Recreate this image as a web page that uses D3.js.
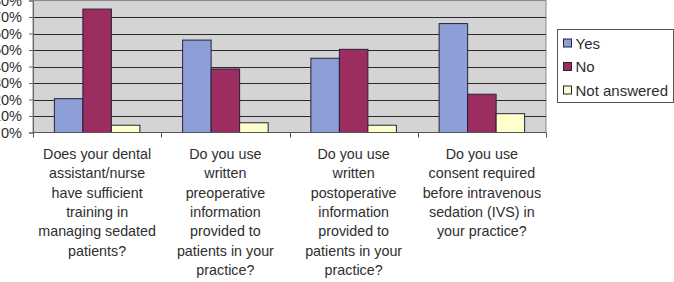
<!DOCTYPE html>
<html>
<head>
<meta charset="utf-8">
<script src="https://cdn.jsdelivr.net/npm/d3@7"></script>
<style>
  body { margin: 0; background: #fff; }
  svg { display: block; font-family: "Liberation Sans", Arial, sans-serif; }
</style>
</head>
<body>
<script>
// categories (tick labels, already wrapped as in the original)
var categories = ["q1", "q2", "q3", "q4"];
var categoryLabels = [
  ["Does your dental", "assistant/nurse", "have sufficient", "training in", "managing sedated", "patients?"],
  ["Do you use", "written", "preoperative", "information", "provided to", "patients in your", "practice?"],
  ["Do you use", "written", "postoperative", "information", "provided to", "patients in your", "practice?"],
  ["Do you use", "consent required", "before intravenous", "sedation (IVS) in", "your practice?"]
];

var seriesNames = ["Yes", "No", "Not answered"];
var seriesColors = ["#8e9fd8", "#9b2d60", "#ffffcc"];

// percent values per series, one per category
var yesValues = [20.5, 56, 45, 66];
var noValues = [74.8, 38.5, 50.4, 23.2];
var notAnsweredValues = [4.4, 5.9, 4.4, 11.4];

var yTicks = [0, 10, 20, 30, 40, 50, 60, 70, 80];

var seriesValues = [yesValues, noValues, notAnsweredValues];

var w = 674, h = 282;
var plotLeft = 33, plotRight = 546, plotTop = 0.5, plotBottom = 132.5;
var textColor = "#2e2e2e";

var svg = d3.select("body").append("svg")
    .attr("width", w)
    .attr("height", h);

var x = d3.scaleBand()
    .domain(categories)
    .range([plotLeft, plotRight])
    .paddingInner(0)
    .paddingOuter(0);

// Excel style gap width 150%
var x1 = d3.scaleBand()
    .domain(seriesNames)
    .range([0, x.bandwidth()])
    .paddingInner(0)
    .paddingOuter(0.75);

var y = d3.scaleLinear()
    .domain([0, 80])
    .range([plotBottom, plotTop]);

// plot area
svg.append("rect")
    .attr("x", plotLeft)
    .attr("y", plotTop)
    .attr("width", plotRight - plotLeft)
    .attr("height", plotBottom - plotTop)
    .attr("fill", "#d4d4d4")
    .attr("stroke", "#8a8a8a");

// gridlines
svg.append("g")
  .selectAll("line")
  .data(yTicks.filter(function(d) { return d > 0 && d < 80; }))
  .enter().append("line")
    .attr("x1", plotLeft)
    .attr("x2", plotRight)
    .attr("y1", function(d) { return Math.round(y(d)) + 0.5; })
    .attr("y2", function(d) { return Math.round(y(d)) + 0.5; })
    .attr("stroke", "#2b2b2b")
    .attr("stroke-width", 1);

// bars
var rows = categories.map(function(c, i) {
  return { cat: c, vals: seriesNames.map(function(s, j) { return { s: s, v: seriesValues[j][i], k: j }; }) };
});

svg.append("g")
  .selectAll("g")
  .data(rows)
  .enter().append("g")
    .attr("transform", function(d) { return "translate(" + x(d.cat) + ",0)"; })
  .selectAll("rect")
  .data(function(d) { return d.vals; })
  .enter().append("rect")
    .attr("x", function(d) { return x1(d.s); })
    .attr("y", function(d) { return y(d.v); })
    .attr("width", x1.bandwidth())
    .attr("height", function(d) { return y(0) - y(d.v); })
    .attr("fill", function(d) { return seriesColors[d.k]; })
    .attr("stroke", "#22223a")
    .attr("stroke-width", 1);

// y axis
var yAxis = d3.axisLeft(y)
    .tickValues(yTicks)
    .tickSize(4)
    .tickPadding(7)
    .tickFormat(function(d) { return d + "%"; });

var gy = svg.append("g")
    .attr("transform", "translate(" + plotLeft + ",0)")
    .call(yAxis);
gy.select(".domain").attr("stroke", "#666");
gy.selectAll(".tick line").attr("stroke", "#666");
gy.selectAll(".tick text")
    .attr("font-size", "14.5px")
    .attr("fill", textColor)
    .attr("font-family", "Liberation Sans, Arial, sans-serif");

// x axis: ticks sit on category boundaries
var bounds = categories.map(function(c) { return x(c); }).concat([plotRight]);
svg.append("line")
    .attr("x1", plotLeft).attr("x2", plotRight)
    .attr("y1", plotBottom).attr("y2", plotBottom)
    .attr("stroke", "#555");
svg.append("g")
  .selectAll("line")
  .data(bounds)
  .enter().append("line")
    .attr("x1", function(d) { return Math.round(d) + 0.5; })
    .attr("x2", function(d) { return Math.round(d) + 0.5; })
    .attr("y1", plotBottom)
    .attr("y2", plotBottom + 5)
    .attr("stroke", "#555");

// wrapped category labels
svg.append("g")
  .selectAll("text")
  .data(categories)
  .enter().append("text")
    .attr("text-anchor", "middle")
    .attr("font-size", "14.3px")
    .attr("fill", textColor)
    .each(function(c, i) {
      var t = d3.select(this);
      categoryLabels[i].forEach(function(line, k) {
        t.append("tspan")
          .attr("x", x(c) + x.bandwidth() / 2)
          .attr("y", 159 + k * 19.3)
          .text(line);
      });
    });

// legend
var legend = svg.append("g").attr("transform", "translate(557.5,29.5)");
legend.append("rect")
    .attr("width", 116)
    .attr("height", 73)
    .attr("fill", "#fff")
    .attr("stroke", "#555");

var items = legend.selectAll("g.item")
  .data(seriesNames)
  .enter().append("g")
    .attr("class", "item")
    .attr("transform", function(d, i) { return "translate(6," + (13.5 + i * 23.5) + ")"; });

items.append("rect")
    .attr("x", 0)
    .attr("y", -4)
    .attr("width", 8)
    .attr("height", 8)
    .attr("fill", function(d, i) { return seriesColors[i]; })
    .attr("stroke", "#22223a");

items.append("text")
    .attr("x", 12)
    .attr("y", 5.5)
    .attr("font-size", "15px")
    .attr("fill", textColor)
    .text(function(d) { return d; });
</script>
</body>
</html>
